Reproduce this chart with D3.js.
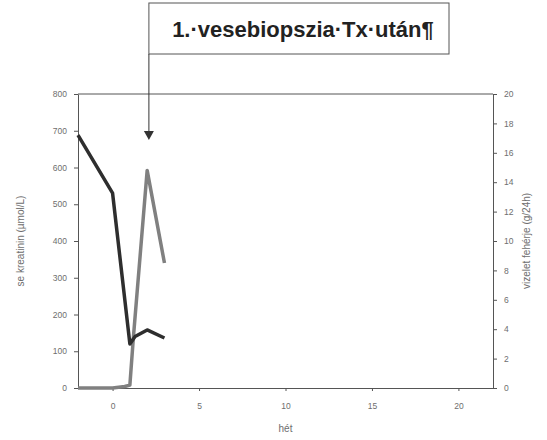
<!DOCTYPE html>
<html><head><meta charset="utf-8">
<script src="https://cdn.jsdelivr.net/npm/d3@7"></script>
<style>body{margin:0;background:#fff}svg{display:block}</style>
</head><body>
<svg id="c" width="547" height="440"></svg>
<script>
const titleText = "1.·vesebiopszia·Tx·után¶";
const xLabel = "hét";
const yLeftLabel = "se kreatinin (µmol/L)";
const yRightLabel = "vizelet fehérje (g/24h)";
const xTicks = [0, 5, 10, 15, 20];
const yLeftTicks = [0, 100, 200, 300, 400, 500, 600, 700, 800];
const yRightTicks = [0, 2, 4, 6, 8, 10, 12, 14, 16, 18, 20];
const kreatWeeks = [-2, 0, 1, 1.3, 2, 3];
const kreatValues = [688, 530, 120, 140, 158, 136];
const protWeeks = [-2, 0, 0.7, 1, 1.2, 2, 3];
const protValues = [0, 0, 0.1, 0.2, 3.4, 14.8, 8.5];
const arrowWeek = 2.1;

const svg = d3.select("#c");
const L = 78, R = 493, T = 94, B = 388;
const x = d3.scaleLinear().domain([-2, 22]).range([L, R]);
const yL = d3.scaleLinear().domain([0, 800]).range([B, T]);
const yR = d3.scaleLinear().domain([0, 20]).range([B, T]);
const axisCol = "#555", textCol = "#6e6e6e";
const font = "Arial, 'Liberation Sans', sans-serif";

// top border
svg.append("line").attr("x1", L).attr("x2", R).attr("y1", T).attr("y2", T)
  .attr("stroke", axisCol).attr("stroke-width", 1);

function style(g){
  g.select(".domain").attr("stroke", axisCol);
  g.selectAll(".tick line").attr("stroke", axisCol);
  g.selectAll("text").attr("fill", textCol).attr("font-family", font).attr("font-size", 8.5);
}
svg.append("g").attr("transform", `translate(0,${B})`)
  .call(d3.axisBottom(x).tickValues(xTicks).tickSize(3).tickPadding(12).tickSizeOuter(0))
  .call(style);
svg.append("g").attr("transform", `translate(${L},0)`)
  .call(d3.axisLeft(yL).tickValues(yLeftTicks).tickSize(4).tickPadding(7).tickSizeOuter(0))
  .call(style);
svg.append("g").attr("transform", `translate(${R},0)`)
  .call(d3.axisRight(yR).tickValues(yRightTicks).tickSize(4).tickPadding(7).tickSizeOuter(0))
  .call(style);

// axis titles
svg.append("text").attr("x", x(10)).attr("y", 432).attr("text-anchor", "middle")
  .attr("fill", textCol).attr("font-family", font).attr("font-size", 10).text(xLabel);
svg.append("text").attr("transform", `translate(24,${(T+B)/2}) rotate(-90)`).attr("text-anchor", "middle")
  .attr("fill", textCol).attr("font-family", font).attr("font-size", 10).text(yLeftLabel);
svg.append("text").attr("transform", `translate(530,${(T+B)/2}) rotate(-90)`).attr("text-anchor", "middle")
  .attr("fill", textCol).attr("font-family", font).attr("font-size", 10).text(yRightLabel);

// lines
const lineK = d3.line().x((d,i) => x(kreatWeeks[i])).y(d => yL(d));
const lineP = d3.line().x((d,i) => x(protWeeks[i])).y(d => yR(d));
svg.append("path").datum(protValues).attr("d", lineP).attr("fill", "none")
  .attr("stroke", "#808080").attr("stroke-width", 3.5).attr("stroke-linejoin", "round");
svg.append("path").datum(kreatValues).attr("d", lineK).attr("fill", "none")
  .attr("stroke", "#2e2e2e").attr("stroke-width", 3.5).attr("stroke-linejoin", "round");

// annotation box and arrow
const ax = x(arrowWeek);
svg.append("rect").attr("x", ax).attr("y", 3).attr("width", 449 - ax).attr("height", 51)
  .attr("fill", "#fff").attr("stroke", "#555").attr("stroke-width", 1);
svg.append("text").attr("x", (ax + 449) / 2 + 4).attr("y", 37).attr("text-anchor", "middle")
  .attr("fill", "#222").attr("font-family", font).attr("font-weight", "bold").attr("font-size", 22)
  .text(titleText);
svg.append("line").attr("x1", ax).attr("x2", ax).attr("y1", 54).attr("y2", 132)
  .attr("stroke", "#333").attr("stroke-width", 1);
svg.append("path").attr("d", `M${ax-5},131 L${ax+5},131 L${ax},140 Z`).attr("fill", "#333");
</script>
</body></html>
